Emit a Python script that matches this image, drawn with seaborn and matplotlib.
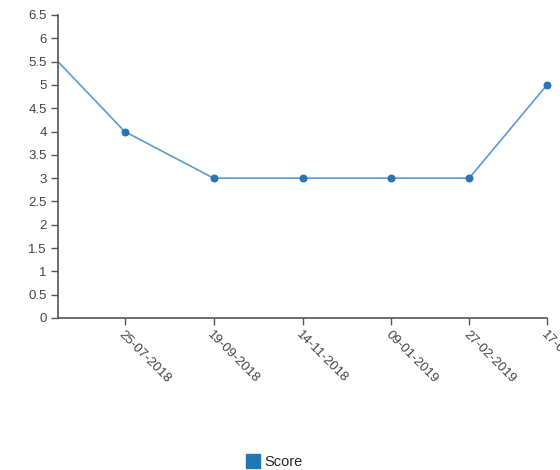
from matplotlib import pyplot as plt
from matplotlib.lines import Line2D
import matplotlib.dates as mdates
import pandas as pd
import seaborn as sns
import numpy as np

# data
dates = ['13-06-2018', '25-07-2018', '19-09-2018', '14-11-2018',
         '09-01-2019', '27-02-2019', '17-04-2019']
scores = [5.5, 4, 3, 3, 3, 3, 5]
series_name = 'Score'

df = pd.DataFrame({'date': pd.to_datetime(dates, format='%d-%m-%Y'),
                   'score': scores})

sns.set_theme(style='white')
plt.rcParams['font.family'] = ['Liberation Sans', 'DejaVu Sans']

fig = plt.figure(figsize=(5.6, 4.7), dpi=100)
ax = fig.add_axes([58 / 560, 1 - 318 / 470, (547 - 58) / 560, (318 - 15) / 470])

# first point has no dot in the reference
sns.lineplot(data=df, x='date', y='score', ax=ax, color='#5b9bd0',
             linewidth=1.2, marker='o', markersize=5,
             markerfacecolor='#2a74b5', markeredgecolor='#2a74b5',
             markevery=list(range(1, len(df))), clip_on=False)

# axes setup
ax.set_xlim(df['date'].iloc[0], df['date'].iloc[-1])
ax.set_ylim(0, 6.5)
ax.set_yticks(np.arange(0, 6.51, 0.5))
ax.set_yticklabels(['{:g}'.format(v) for v in np.arange(0, 6.51, 0.5)])
ax.set_xticks(df['date'].iloc[1:])
ax.xaxis.set_major_formatter(mdates.DateFormatter('%d-%m-%Y'))
for lab in ax.get_xticklabels():
    lab.set_rotation(-45)
    lab.set_ha('left')
    lab.set_va('top')
    lab.set_rotation_mode('anchor')

ax.set_xlabel('')
ax.set_ylabel('')
sns.despine(ax=ax)
for s in ['left', 'bottom']:
    ax.spines[s].set_color('#555555')
    ax.spines[s].set_linewidth(1.2)
ax.tick_params(axis='both', length=5, width=1, color='#555555',
               labelsize=9.5, labelcolor='#444444', pad=3, direction='out')
ax.tick_params(axis='x', bottom=True)
ax.tick_params(axis='y', left=True)

# legend at the bottom
handle = Line2D([], [], marker='s', linestyle='', markersize=10,
                color='#1f77b4')
fig.legend([handle], [series_name], loc='center', bbox_to_anchor=(0.49, 0.017),
           frameon=False, fontsize=10.5, handletextpad=0.3, handlelength=1)

plt.savefig('out.png', dpi=100)
